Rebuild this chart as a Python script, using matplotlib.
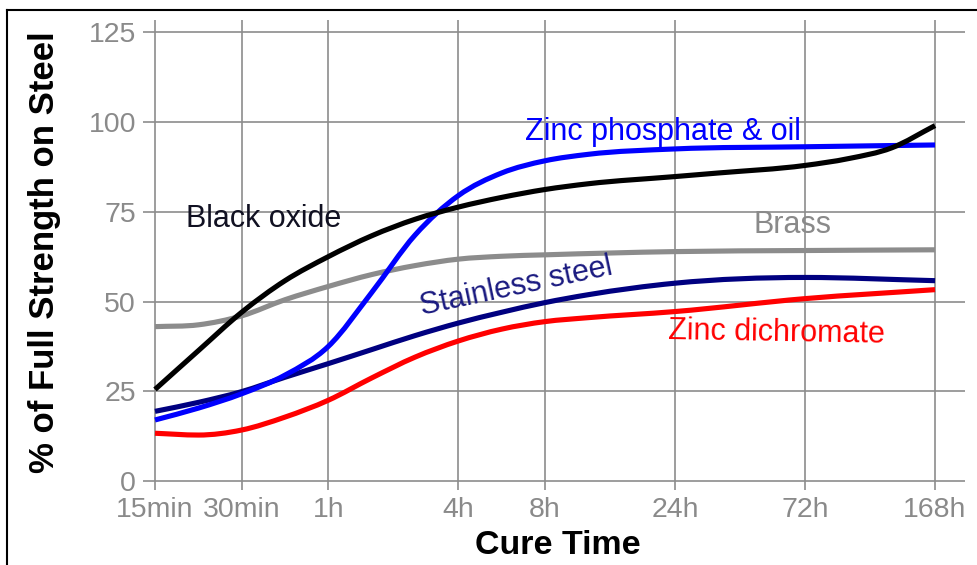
import numpy as np
import matplotlib
matplotlib.use("Agg")
import matplotlib.pyplot as plt
from matplotlib.path import Path
from matplotlib.patches import PathPatch
from matplotlib.lines import Line2D

plt.rcParams['font.family'] = ['Liberation Sans', 'DejaVu Sans']

# ---- data ----
tick_labels = ["15min", "30min", "1h", "4h", "8h", "24h", "72h", "168h"]
tick_pos = [0, 1, 2, 3.5, 4.5, 6, 7.5, 9]
y_ticks = [0, 25, 50, 75, 100, 125]

black_x = [0, 0.5, 1, 1.5, 2, 2.5, 3, 3.5, 4, 4.5, 5, 6, 6.5, 7.5, 8, 8.5, 9]
black_y = [25.5, 36.3, 47, 55.8, 62.5, 68.3, 72.9, 76.3, 79, 81.2, 82.8, 84.8, 85.8, 87.9, 89.8, 92.8, 99]

blue_x = [0, 0.5, 1, 1.5, 2, 2.5, 3, 3.5, 4, 4.5, 5, 6, 7.5, 9]
blue_y = [17, 20.3, 24.3, 29.5, 37.5, 52.5, 68.5, 79.5, 85.8, 89.2, 91, 92.5, 93.1, 93.6]

gray_x = [0, 0.5, 1, 1.5, 2, 2.5, 3, 3.5, 4, 4.5, 6, 7.5, 9]
gray_y = [43, 43.5, 46, 50.5, 54.2, 57.5, 60, 61.8, 62.6, 63, 63.9, 64.2, 64.4]

navy_x = [0, 0.5, 1, 1.5, 2, 2.5, 3, 3.5, 4, 4.5, 5, 6, 7.5, 9]
navy_y = [19.4, 21.9, 24.9, 28.9, 32.7, 36.6, 40.5, 44, 47, 49.7, 51.9, 55.1, 56.7, 55.8]

red_x = [0, 0.5, 1, 1.5, 2, 2.5, 3, 3.5, 4, 4.5, 5, 6, 7.5, 9]
red_y = [13.3, 12.8, 14.2, 17.8, 22.5, 28.7, 34.5, 39, 42.3, 44.4, 45.5, 47.2, 50.8, 53.3]


def slopes(x, y):
    x = np.asarray(x, float); y = np.asarray(y, float)
    h = np.diff(x); d = np.diff(y) / h
    n = len(x); m = np.zeros(n)
    for k in range(1, n - 1):
        if d[k - 1] * d[k] <= 0:
            m[k] = 0
        else:
            mk = (h[k - 1] * d[k] + h[k] * d[k - 1]) / (h[k - 1] + h[k])
            lim = 3 * min(abs(d[k - 1]), abs(d[k]))
            m[k] = np.sign(mk) * min(abs(mk), lim)
    m[0] = d[0]; m[-1] = d[-1]
    return m


def smooth_path(x, y):
    m = slopes(x, y)
    verts = [(x[0], y[0])]; codes = [Path.MOVETO]
    for i in range(len(x) - 1):
        h = x[i + 1] - x[i]
        verts += [(x[i] + h / 3, y[i] + m[i] * h / 3),
                  (x[i + 1] - h / 3, y[i + 1] - m[i + 1] * h / 3),
                  (x[i + 1], y[i + 1])]
        codes += [Path.CURVE4] * 3
    return Path(verts, codes)


fig = plt.figure(figsize=(9.77, 5.65), dpi=100)
ax = fig.add_axes([143 / 977, 1 - 490 / 565, 822 / 977, 470 / 565])
ax.set_xlim((143 - 155) / 86.67, (965 - 155) / 86.67)
ax.set_ylim((481 - 490) / 3.59, (481 - 20) / 3.59)

ax.set_xticks(tick_pos)
ax.set_xticklabels(tick_labels)
ax.set_yticks(y_ticks)
ax.grid(True, color='#8c8c8c', lw=1.2)
ax.set_axisbelow(True)
for s in ax.spines.values():
    s.set_visible(False)
ax.tick_params(axis='both', length=0, labelsize=20.5, labelcolor='#8a8a8a')
ax.tick_params(axis='x', pad=5)
ax.tick_params(axis='y', pad=5)

series = [
    (gray_x, gray_y, '#8c8c8c'),
    (red_x, red_y, '#ff0000'),
    (navy_x, navy_y, '#000080'),
    (blue_x, blue_y, '#0000ff'),
    (black_x, black_y, '#000000'),
]
for xs, ys, c in series:
    ax.add_patch(PathPatch(smooth_path(xs, ys), facecolor='none', edgecolor=c,
                           lw=3.7, capstyle='butt', zorder=3))

fs = 22
ax.text(0.36, 70.75, "Black oxide", color='#111122', fontsize=fs, ha='left', va='baseline')
ax.text(4.27, 95.0, "Zinc phosphate & oil", color='#0000ff', fontsize=fs, ha='left', va='baseline')
ax.text(6.90, 69.1, "Brass", color='#8a8a8a', fontsize=fs, ha='left', va='baseline')
ax.text(3.08, 46.2, "Stainless steel", color='#1a1a80', fontsize=fs, ha='left', va='baseline',
        rotation=12, rotation_mode='anchor')
ax.text(5.92, 39.6, "Zinc dichromate", color='#ff0000', fontsize=fs, ha='left', va='baseline',
        rotation=-1, rotation_mode='anchor')

fig.text(45 / 977, 1 - 252 / 565, "% of Full Strength on Steel", rotation=90, fontsize=25,
         fontweight='bold', ha='center', va='center', color='black')
fig.text(558 / 977, 1 - 545 / 565, "Cure Time", fontsize=24.5, fontweight='bold',
         ha='center', va='center', color='black')

# image frame (top and left edges)
fig.add_artist(Line2D([7 / 977, 1.0], [1 - 10 / 565, 1 - 10 / 565], color='black', lw=1.5,
                      transform=fig.transFigure))
fig.add_artist(Line2D([7 / 977, 7 / 977], [0, 1 - 10 / 565], color='black', lw=1.5,
                      transform=fig.transFigure))

fig.savefig("out.png", dpi=100)
